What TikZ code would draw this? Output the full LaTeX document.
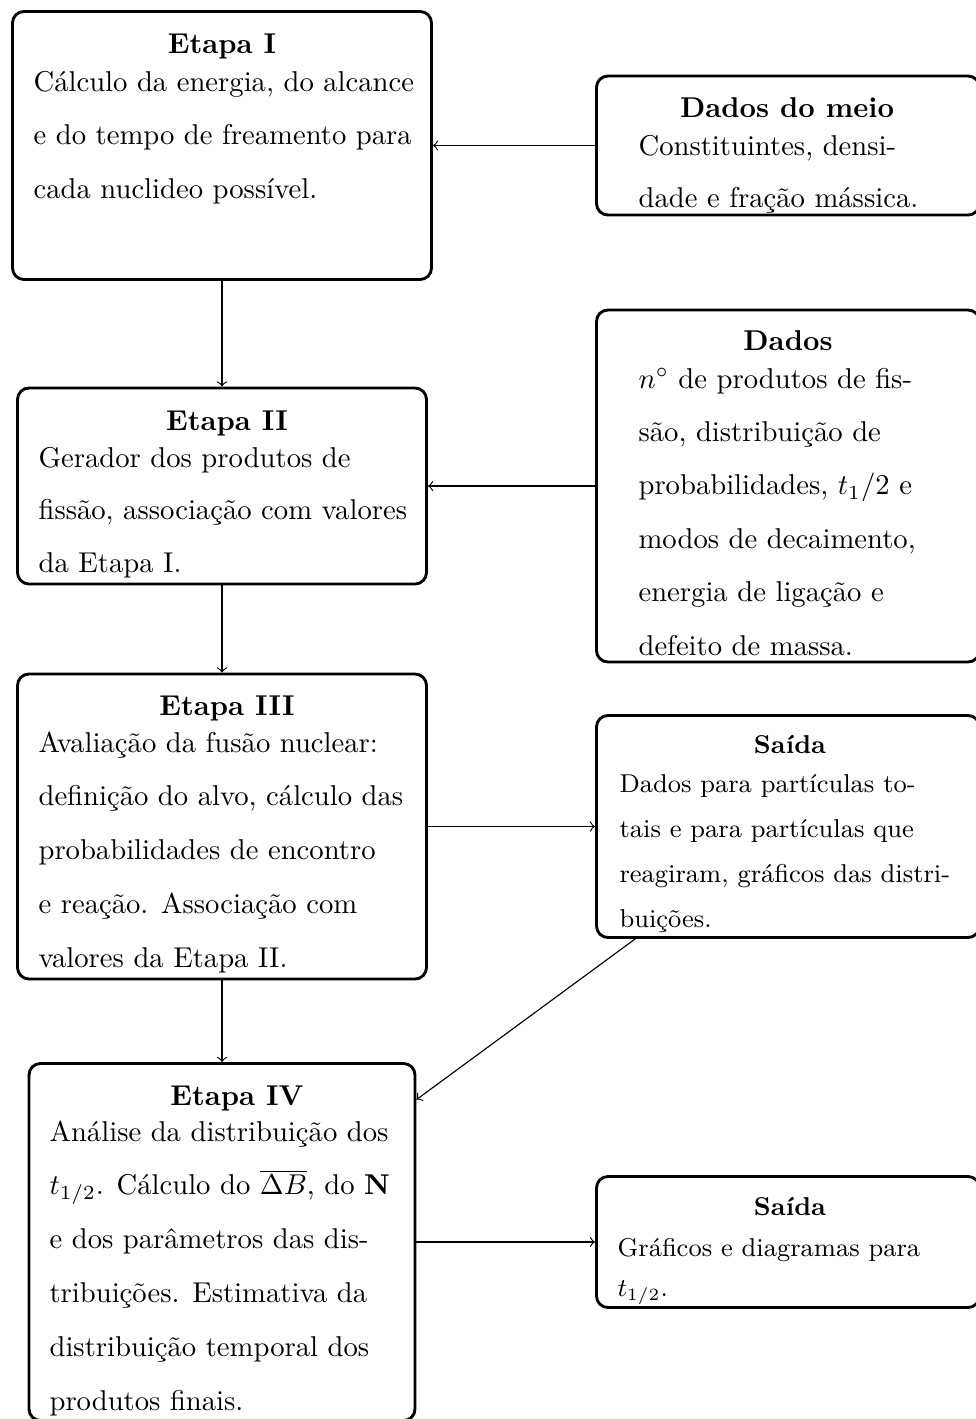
\documentclass[tikz,border=0pt]{standalone}
\newdimen\pxu \pxu=0.349pt
% stacked lines with a fixed baseline distance (given in picture units)
\newcommand\txtlines[2]{\vtop{\baselineskip=#1\pxu\lineskiplimit=-\maxdimen\lineskip=0pt #2}}
\tikzset{
  stage/.style n args={2}{draw, line width=1pt, rounded corners=4pt, inner sep=0pt,
    minimum width={#1*0.349pt}, minimum height={#2*0.349pt}},
  title/.style={anchor=base, inner sep=0pt, font=\bfseries},
  smalltitle/.style={anchor=base, inner sep=0pt, font=\small\bfseries},
  body/.style={anchor=base west, inner sep=0pt},
  smallbody/.style={anchor=base west, inner sep=0pt, font=\small},
  link/.style={->, thin},
}
\begin{document}
\begin{tikzpicture}[x=0.349pt, y=-0.349pt]
\useasboundingbox (0,0) rectangle (976,1419);
\clip (0,0) rectangle (976,1419);

% boxes
\node[stage={419}{268}] (e1) at (222,145.5) {};
\node[stage={383}{139}] (dm) at (788,145.5) {};
\node[stage={409}{196}] (e2) at (222,486) {};
\node[stage={383}{352}] (d)  at (788,486) {};
\node[stage={409}{305}] (e3) at (222,826.5) {};
\node[stage={383}{222}] (s1) at (788,826.5) {};
\node[stage={386}{357}] (e4) at (222,1242) {};
\node[stage={383}{131}] (s2) at (788,1242) {};

% Etapa I
\node[title] (e1t) at (222,53) {Etapa I};
\node[body] (e1b) at (33,91) {\txtlines{53.5}{%
  \hbox{Cálculo da energia, do alcance}
  \hbox{e do tempo de freamento para}
  \hbox{cada nuclideo possível.}}};

% Dados do meio
\node[title] (dmt) at (787,117) {Dados do meio};
\node[body] (dmb) at (638,155) {\txtlines{52}{%
  \hbox{Constituintes, densi-}
  \hbox{dade e fração mássica.}}};

% Etapa II
\node[title] (e2t) at (227,430) {Etapa II};
\node[body] (e2b) at (38,467) {\txtlines{52.5}{%
  \hbox{Gerador dos produtos de}
  \hbox{fissão, associação com valores}
  \hbox{da Etapa I.}}};

% Dados
\node[title] (dt) at (788,350) {Dados};
\node[body] (db) at (638,388) {\txtlines{53.4}{%
  \hbox{$n^\circ$ de produtos de fis-}
  \hbox{são, distribuição de}
  \hbox{probabilidades, $t_1/2$ e}
  \hbox{modos de decaimento,}
  \hbox{energia de ligação e}
  \hbox{defeito de massa.}}};

% Etapa III
\node[title] (e3t) at (227,715) {Etapa III};
\node[body] (e3b) at (38,752) {\txtlines{53.75}{%
  \hbox{Avaliação da fusão nuclear:}
  \hbox{definição do alvo, cálculo das}
  \hbox{probabilidades de encontro}
  \hbox{e reação. Associação com}
  \hbox{valores da Etapa II.}}};

% Saída (partículas)
\node[smalltitle] (s1t) at (790,753) {Saída};
\node[smallbody] (s1b) at (619,792) {\txtlines{45}{%
  \hbox{Dados para partículas to-}
  \hbox{tais e para partículas que}
  \hbox{reagiram, gráficos das distri-}
  \hbox{buições.}}};

% Etapa IV
\node[title] (e4t) at (237,1105) {Etapa IV};
\node[body] (e4b) at (49,1141) {\txtlines{53.8}{%
  \hbox{Análise da distribuição dos}
  \hbox{$t_{1/2}$. Cálculo do $\overline{\Delta B}$, do $\mathbf{N}$}
  \hbox{e dos parâmetros das dis-}
  \hbox{tribuições. Estimativa da}
  \hbox{distribuição temporal dos}
  \hbox{produtos finais.}}};

% Saída (gráficos)
\node[smalltitle] (s2t) at (790,1215) {Saída};
\node[smallbody] (s2b) at (617,1256) {\txtlines{40}{%
  \hbox{Gráficos e diagramas para}
  \hbox{$t_{1/2}$.}}};

% connectors
\draw[link] (dm) -- (e1);
\draw[link] (e1) -- (e2);
\draw[link] (d)  -- (e2);
\draw[link] (e2) -- (e3);
\draw[link] (e3) -- (s1);
\draw[link] (e3) -- (e4);
\draw[link] (s1) -- (e4);
\draw[link] (e4) -- (s2);
\end{tikzpicture}
\end{document}
